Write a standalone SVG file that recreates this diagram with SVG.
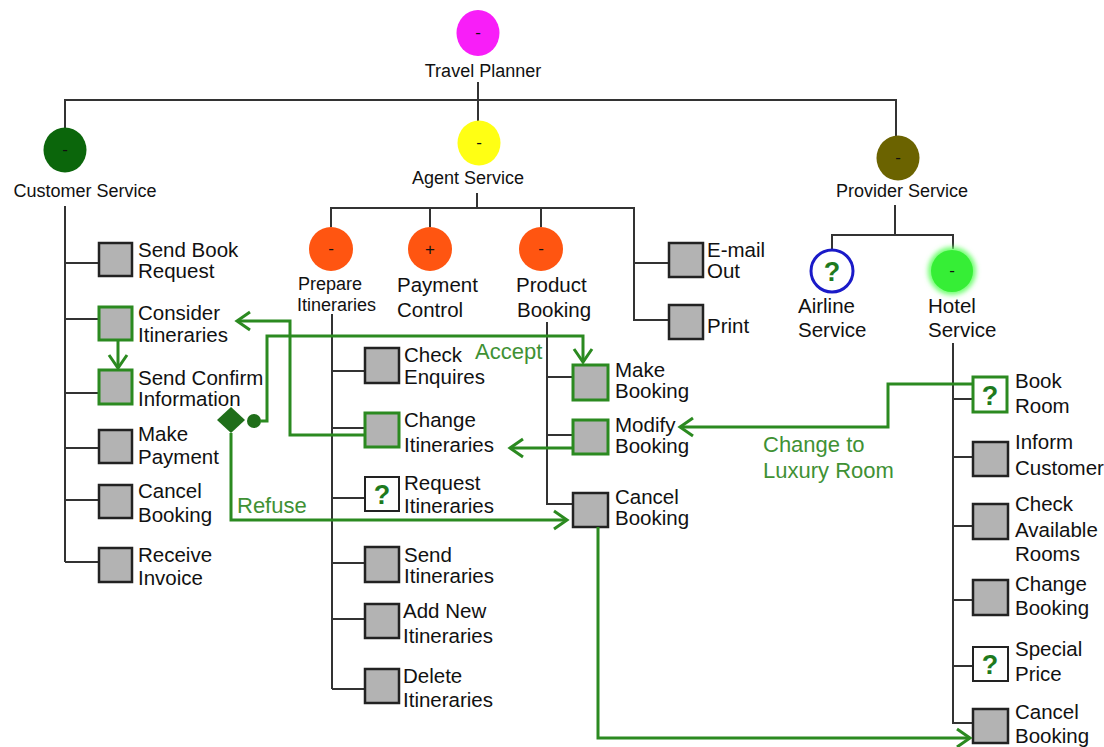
<svg xmlns="http://www.w3.org/2000/svg" width="1104" height="747" viewBox="0 0 1104 747">
  <defs>
    <style>
      .tree { fill: none; stroke: #333; stroke-width: 2; }
      .flow { fill: none; stroke: #2b8a20; stroke-width: 3; stroke-linejoin: miter; }
      .box { fill: #b3b3b3; stroke: #222; stroke-width: 2.5; }
      .box-hi { fill: #b3b3b3; stroke: #2b8a20; stroke-width: 3; }
      .qbox { fill: #fff; stroke: #222; stroke-width: 2; }
      .qbox-hi { fill: #fff; stroke: #2b8a20; stroke-width: 3; }
      .q { font-family: "Liberation Sans", Arial, sans-serif; font-weight: bold; font-size: 27px; fill: #1e7a1e; text-anchor: middle; }
      .sign { font-family: "Liberation Sans", Arial, sans-serif; font-size: 17px; fill: #111; text-anchor: middle; }
      .title { font-family: "Liberation Sans", Arial, sans-serif; font-size: 18px; fill: #111; }
      .lbl { font-family: "Liberation Sans", Arial, sans-serif; font-size: 20.5px; fill: #111; }
      .flow-lbl { font-family: "Liberation Sans", Arial, sans-serif; font-size: 22px; fill: #3f9134; }
    </style>
    <marker id="chev" markerWidth="18" markerHeight="22" refX="15" refY="11" orient="auto" markerUnits="userSpaceOnUse">
      <path d="M2,2 L15,11 L2,20" fill="none" stroke="#2b8a20" stroke-width="3"/>
    </marker>
    <filter id="halo" x="-50%" y="-50%" width="200%" height="200%">
      <feGaussianBlur stdDeviation="2.5"/>
    </filter>
  </defs>

  <rect width="1104" height="747" fill="#fff"/>

  <!-- hierarchy lines -->
  <g id="tree-lines" class="tree">
    <path d="M478,82 V122"/>
    <path d="M65,128 V100 H896 V136"/>
    <!-- customer service branch -->
    <path d="M65,206 V562 M65,263 H99 M65,319 H99 M65,393 H99 M65,448 H99 M65,500 H99 M65,562 H99"/>
    <!-- agent service branch -->
    <path d="M477,193 V208 M331,227 V208 H634 V320 H669 M634,263 H669 M430,208 V227 M541,208 V227"/>
    <path d="M332,314 V689 M332,371 H365 M332,428 H365 M332,498 H365 M332,563 H365 M332,619 H365 M332,689 H365"/>
    <path d="M547,322 V504 H573 M547,377 H573 M547,435 H573"/>
    <!-- provider service branch -->
    <path d="M895,205 V235 M832,249 V235 H953 V249"/>
    <path d="M953,343 V723 H973 M953,399 H973 M953,457 H973 M953,526 H973 M953,600 H973 M953,666 H973"/>
  </g>

  <!-- top level -->
  <g id="travel-planner">
    <ellipse cx="478" cy="33" rx="21.5" ry="23" fill="#f81ef8"/>
    <text class="sign" x="478" y="38">-</text>
    <text class="title" x="483" y="77" text-anchor="middle">Travel Planner</text>
  </g>
  <g id="customer-service">
    <ellipse cx="65" cy="150" rx="21.5" ry="22.5" fill="#0b660b"/>
    <text class="sign" x="65" y="155">-</text>
    <text class="title" x="85" y="197" text-anchor="middle">Customer Service</text>
  </g>
  <g id="agent-service">
    <ellipse cx="479" cy="143" rx="21.5" ry="22.5" fill="#ffff14"/>
    <text class="sign" x="479" y="148">-</text>
    <text class="title" x="468" y="184" text-anchor="middle">Agent Service</text>
  </g>
  <g id="provider-service">
    <ellipse cx="898" cy="158" rx="21.5" ry="22.5" fill="#6b6300"/>
    <text class="sign" x="898" y="163">-</text>
    <text class="title" x="902" y="197" text-anchor="middle">Provider Service</text>
  </g>

  <!-- agent sub-services -->
  <g id="prepare-itineraries">
    <circle cx="331" cy="249" r="22" fill="#ff5511"/>
    <text class="sign" x="331" y="254">-</text>
    <text class="title" x="298" y="290">Prepare</text>
    <text class="title" x="297" y="311">Itineraries</text>
  </g>
  <g id="payment-control">
    <circle cx="430" cy="249" r="22" fill="#ff5511"/>
    <text class="sign" x="430" y="255">+</text>
    <text class="lbl" x="397" y="292">Payment</text>
    <text class="lbl" x="397" y="317">Control</text>
  </g>
  <g id="product-booking">
    <circle cx="541" cy="249" r="22" fill="#ff5511"/>
    <text class="sign" x="541" y="254">-</text>
    <text class="lbl" x="516" y="292">Product</text>
    <text class="lbl" x="517" y="317">Booking</text>
  </g>

  <!-- provider sub-services -->
  <g id="airline-service">
    <circle cx="832" cy="271" r="21" fill="#fff" stroke="#1a1ac8" stroke-width="3"/>
    <text class="q" x="832" y="281">?</text>
    <text class="lbl" x="798" y="313">Airline</text>
    <text class="lbl" x="798" y="337">Service</text>
  </g>
  <g id="hotel-service">
    <circle cx="952" cy="271" r="24" fill="#6dff6d" filter="url(#halo)"/>
    <circle cx="952" cy="271" r="21" fill="#36ee36"/>
    <text class="sign" x="952" y="276">-</text>
    <text class="lbl" x="928" y="313">Hotel</text>
    <text class="lbl" x="928" y="337">Service</text>
  </g>

  <!-- customer service tasks -->
  <g id="send-book-request">
    <rect class="box" x="99" y="243" width="33" height="33"/>
    <text class="lbl" x="138" y="257">Send Book</text>
    <text class="lbl" x="138" y="278">Request</text>
  </g>
  <g id="consider-itineraries">
    <rect class="box-hi" x="99" y="307" width="33" height="33"/>
    <text class="lbl" x="138" y="320">Consider</text>
    <text class="lbl" x="138" y="342">Itineraries</text>
  </g>
  <g id="send-confirm-information">
    <rect class="box-hi" x="99" y="370" width="33" height="34"/>
    <text class="lbl" x="138" y="385">Send Confirm</text>
    <text class="lbl" x="138" y="406">Information</text>
  </g>
  <g id="make-payment">
    <rect class="box" x="99" y="430" width="33" height="33"/>
    <text class="lbl" x="138" y="441">Make</text>
    <text class="lbl" x="138" y="464">Payment</text>
  </g>
  <g id="cancel-booking-customer">
    <rect class="box" x="99" y="485" width="33" height="33"/>
    <text class="lbl" x="138" y="498">Cancel</text>
    <text class="lbl" x="138" y="522">Booking</text>
  </g>
  <g id="receive-invoice">
    <rect class="box" x="99" y="548" width="33" height="34"/>
    <text class="lbl" x="138" y="562">Receive</text>
    <text class="lbl" x="138" y="585">Invoice</text>
  </g>

  <!-- prepare itineraries tasks -->
  <g id="check-enquires">
    <rect class="box" x="365" y="348" width="34" height="35"/>
    <text class="lbl" x="404" y="362">Check</text>
    <text class="lbl" x="404" y="384">Enquires</text>
  </g>
  <g id="change-itineraries">
    <rect class="box-hi" x="365" y="413" width="34" height="34"/>
    <text class="lbl" x="404" y="427">Change</text>
    <text class="lbl" x="404" y="452">Itineraries</text>
  </g>
  <g id="request-itineraries">
    <rect class="qbox" x="365" y="477" width="34" height="34"/>
    <text class="q" x="382" y="504">?</text>
    <text class="lbl" x="404" y="490">Request</text>
    <text class="lbl" x="404" y="513">Itineraries</text>
  </g>
  <g id="send-itineraries">
    <rect class="box" x="365" y="547" width="34" height="35"/>
    <text class="lbl" x="404" y="562">Send</text>
    <text class="lbl" x="404" y="583">Itineraries</text>
  </g>
  <g id="add-new-itineraries">
    <rect class="box" x="365" y="604" width="34" height="34"/>
    <text class="lbl" x="403" y="618">Add New</text>
    <text class="lbl" x="403" y="643">Itineraries</text>
  </g>
  <g id="delete-itineraries">
    <rect class="box" x="365" y="669" width="34" height="34"/>
    <text class="lbl" x="403" y="683">Delete</text>
    <text class="lbl" x="403" y="707">Itineraries</text>
  </g>

  <!-- product booking tasks -->
  <g id="make-booking">
    <rect class="box-hi" x="573" y="365" width="35" height="35"/>
    <text class="lbl" x="615" y="377">Make</text>
    <text class="lbl" x="615" y="398">Booking</text>
  </g>
  <g id="modify-booking">
    <rect class="box-hi" x="573" y="420" width="35" height="34"/>
    <text class="lbl" x="615" y="432">Modify</text>
    <text class="lbl" x="615" y="453">Booking</text>
  </g>
  <g id="cancel-booking-agent">
    <rect class="box" x="573" y="493" width="35" height="34"/>
    <text class="lbl" x="615" y="504">Cancel</text>
    <text class="lbl" x="615" y="525">Booking</text>
  </g>

  <!-- agent output tasks -->
  <g id="email-out">
    <rect class="box" x="669" y="243" width="34" height="34"/>
    <text class="lbl" x="707" y="257">E-mail</text>
    <text class="lbl" x="707" y="278">Out</text>
  </g>
  <g id="print">
    <rect class="box" x="669" y="305" width="34" height="34"/>
    <text class="lbl" x="707" y="333">Print</text>
  </g>

  <!-- hotel service tasks -->
  <g id="book-room">
    <rect class="qbox-hi" x="973" y="377" width="34" height="35"/>
    <text class="q" x="990" y="405">?</text>
    <text class="lbl" x="1015" y="388">Book</text>
    <text class="lbl" x="1015" y="413">Room</text>
  </g>
  <g id="inform-customer">
    <rect class="box" x="973" y="442" width="35" height="34"/>
    <text class="lbl" x="1015" y="449">Inform</text>
    <text class="lbl" x="1015" y="475">Customer</text>
  </g>
  <g id="check-available-rooms">
    <rect class="box" x="973" y="504" width="35" height="35"/>
    <text class="lbl" x="1015" y="511">Check</text>
    <text class="lbl" x="1015" y="537">Available</text>
    <text class="lbl" x="1015" y="561">Rooms</text>
  </g>
  <g id="change-booking">
    <rect class="box" x="973" y="580" width="35" height="35"/>
    <text class="lbl" x="1015" y="591">Change</text>
    <text class="lbl" x="1015" y="615">Booking</text>
  </g>
  <g id="special-price">
    <rect class="qbox" x="973" y="647" width="35" height="34"/>
    <text class="q" x="990" y="674">?</text>
    <text class="lbl" x="1015" y="656">Special</text>
    <text class="lbl" x="1015" y="681">Price</text>
  </g>
  <g id="cancel-booking-hotel">
    <rect class="box" x="973" y="709" width="35" height="34"/>
    <text class="lbl" x="1015" y="719">Cancel</text>
    <text class="lbl" x="1015" y="743">Booking</text>
  </g>

  <!-- decision point -->
  <g id="decision">
    <path d="M231,407 L245,420 L231,433 L217,420 Z" fill="#1f6e1a"/>
    <circle cx="254" cy="421" r="7" fill="#1f6e1a"/>
  </g>

  <!-- process flows -->
  <g id="connectors">
    <path class="flow" d="M118,340 V368" marker-end="url(#chev)"/>
    <path class="flow" d="M365,435 H290 V321 H237" marker-end="url(#chev)"/>
    <path class="flow" d="M260,421 H267 V336 H583 V362" marker-end="url(#chev)"/>
    <path class="flow" d="M231,433 V520 H567" marker-end="url(#chev)"/>
    <path class="flow" d="M573,448 H510" marker-end="url(#chev)"/>
    <path class="flow" d="M973,384 H888 V427 H680" marker-end="url(#chev)"/>
    <path class="flow" d="M598,527 V738 H970" marker-end="url(#chev)"/>
    <text class="flow-lbl" x="475" y="359">Accept</text>
    <text class="flow-lbl" x="237" y="513">Refuse</text>
    <text class="flow-lbl" x="763" y="452">Change to</text>
    <text class="flow-lbl" x="763" y="478">Luxury Room</text>
  </g>
</svg>
